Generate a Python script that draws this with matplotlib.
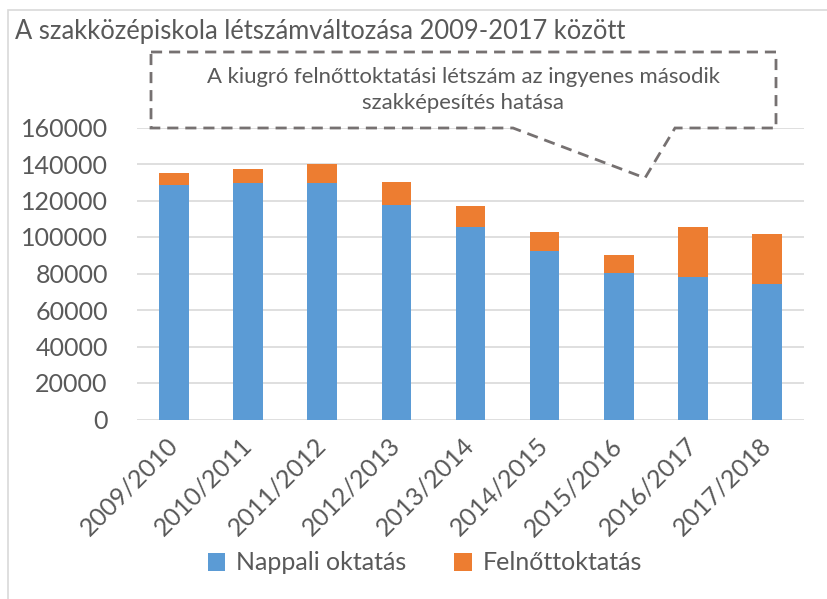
import numpy as np
import matplotlib
matplotlib.use('Agg')
import matplotlib.pyplot as plt
from matplotlib.patches import Polygon, Rectangle

# ---------- betűtípus ----------
plt.rcParams['font.family'] = ['Lato', 'DejaVu Sans']
TXT = '#595959'

# ---------- adatok ----------
tanevek = ['2009/2010', '2010/2011', '2011/2012', '2012/2013', '2013/2014',
           '2014/2015', '2015/2016', '2016/2017', '2017/2018']
nappali = [128600, 129400, 129400, 117500, 105300, 92500, 80100, 78100, 74100]
felnott = [6600, 7900, 10400, 12800, 11900, 10100, 10000, 27400, 27600]

cim = 'A szakközépiskola létszámváltozása 2009-2017 között'
megjegyzes = 'A kiugró felnőttoktatási létszám az ingyenes második\nszakképesítés hatása'
sorozat_nevek = ['Nappali oktatás', 'Felnőttoktatás']
szinek = ['#5B9BD5', '#ED7D31']

# ---------- ábra ----------
fig = plt.figure(figsize=(8.27, 5.99), dpi=100)
ax = fig.add_axes([137 / 827, 1 - 419.5 / 599, 667 / 827, 292 / 599])

x = np.arange(len(tanevek))
ax.bar(x, nappali, width=0.4, color=szinek[0], label=sorozat_nevek[0], zorder=3)
ax.bar(x, felnott, width=0.4, bottom=nappali, color=szinek[1], label=sorozat_nevek[1], zorder=3)

ax.set_xlim(-0.5, len(tanevek) - 0.5)
ax.set_ylim(0, 160000)
ax.set_yticks(np.arange(0, 160001, 20000))
ax.yaxis.grid(True, color='#d9d9d9', linewidth=1.2, zorder=0)
ax.set_axisbelow(True)
for s in ax.spines.values():
    s.set_visible(False)

ax.set_xticks(x)
ax.set_xticklabels(tanevek, rotation=45, ha='right', va='center', rotation_mode='anchor')
ax.tick_params(axis='both', length=0, colors=TXT, labelsize=18)
ax.tick_params(axis='y', pad=21)
ax.tick_params(axis='x', pad=16)

# keret a diagram körül
fig.patches.append(Rectangle((7.5 / 827, -0.1), 1.2, 1 - 9.5 / 599 + 0.1,
                             transform=fig.transFigure, fill=False,
                             edgecolor='#d9d9d9', linewidth=1.2))

fig.text(15 / 827, 1 - 32 / 599, cim, fontsize=18.4, color=TXT, va='center', ha='left')

# szövegbuborék (szaggatott)
pts_px = [(151, 52), (776, 52), (776, 128), (675, 128), (645, 178), (513, 128), (151, 128)]
pts = [(px / 827, 1 - py / 599) for px, py in pts_px]
fig.patches.append(Polygon(pts, closed=True, transform=fig.transFigure, fill=True,
                           facecolor='white', edgecolor='#767171', linewidth=2,
                           linestyle=(0, (4, 2.5)), zorder=5))
fig.text(463.5 / 827, 1 - 90 / 599, megjegyzes, fontsize=15.9, color=TXT,
         ha='center', va='center', linespacing=1.4, zorder=6)

leg = fig.legend(loc='center', bbox_to_anchor=(425 / 827, 1 - 563 / 599), ncol=2,
                 frameon=False, fontsize=18, handlelength=0.7, handleheight=0.7,
                 columnspacing=1.9, handletextpad=0.45)
for t in leg.get_texts():
    t.set_color(TXT)

fig.savefig('out.png', dpi=100)
